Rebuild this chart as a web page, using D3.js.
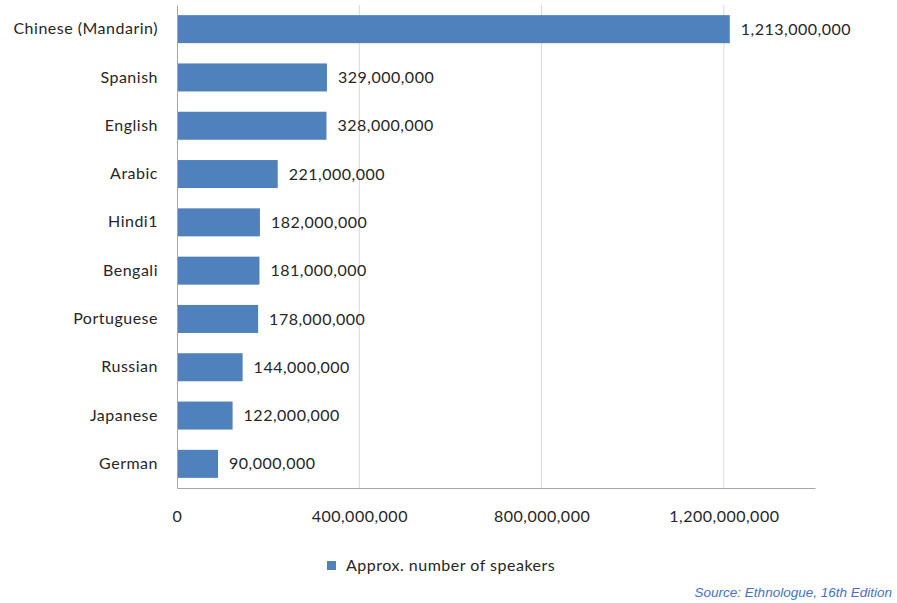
<!DOCTYPE html>
<html>
<head>
<meta charset="utf-8">
<script src="https://cdn.jsdelivr.net/npm/d3@7"></script>
<style>
  body { margin: 0; background: #fff; }
  text { font-family: Lato, "Open Sans", sans-serif; fill: #262626; letter-spacing: 0.5px; }
</style>
</head>
<body>
<div class="chart"></div>
<script>
const languages = ['Chinese (Mandarin)', 'Spanish', 'English', 'Arabic', 'Hindi1',
                   'Bengali', 'Portuguese', 'Russian', 'Japanese', 'German'];
const speakers = [1213000000, 329000000, 328000000, 221000000, 182000000,
                  181000000, 178000000, 144000000, 122000000, 90000000];
const xTicks = [0, 400000000, 800000000, 1200000000];
const seriesName = 'Approx. number of speakers';
const sourceNote = 'Source: Ethnologue, 16th Edition';

const data = languages.map((d, i) => ({ lang: d, value: speakers[i] }));

const width = 897, height = 603;
const margin = { top: 5, left: 177, right: 82, bottom: 115 };
const barColor = '#4f81bd';

const svg = d3.select('.chart').append('svg')
  .attr('width', width).attr('height', height);

const x = d3.scaleLinear().domain([0, 1400000000])
  .range([margin.left, width - margin.right]);
const y = d3.scaleBand().domain(languages)
  .range([margin.top, height - margin.bottom])
  .paddingInner(0.42).paddingOuter(0.21);

const fmt = d3.format(',');

// gridlines
svg.append('g').selectAll('line')
  .data(xTicks.filter(d => d > 0))
  .join('line')
  .attr('x1', d => x(d)).attr('x2', d => x(d))
  .attr('y1', margin.top).attr('y2', height - margin.bottom)
  .attr('stroke', '#d9d9d9').attr('stroke-width', 1);

// bars
svg.append('g').selectAll('rect')
  .data(data)
  .join('rect')
  .attr('x', x(0))
  .attr('y', d => y(d.lang))
  .attr('width', d => x(d.value) - x(0))
  .attr('height', y.bandwidth())
  .attr('fill', barColor);

// value labels
svg.append('g').selectAll('text')
  .data(data)
  .join('text')
  .attr('x', d => x(d.value) + 11)
  .attr('y', d => y(d.lang) + y.bandwidth() / 2)
  .attr('dy', '0.35em')
  .style('font-size', '16px')
  .text(d => fmt(d.value));

// x axis
const xAxis = d3.axisBottom(x).tickValues(xTicks).tickFormat(fmt)
  .tickSize(0).tickPadding(23);
const xAxisG = svg.append('g')
  .attr('transform', `translate(0,${height - margin.bottom})`)
  .call(xAxis);
xAxisG.select('.domain').attr('stroke', '#a6a6a6');
xAxisG.selectAll('text').style('font-size', '16px').attr('fill', '#262626');

// y axis
const yAxis = d3.axisLeft(y).tickSize(0).tickPadding(19);
const yAxisG = svg.append('g')
  .attr('transform', `translate(${margin.left},0)`)
  .call(yAxis);
yAxisG.select('.domain').attr('stroke', '#a6a6a6');
yAxisG.selectAll('text').style('font-size', '16px').attr('fill', '#262626');

// legend
const legend = svg.append('g').attr('transform', 'translate(327,561)');
legend.append('rect').attr('width', 9).attr('height', 9).attr('fill', barColor);
legend.append('text').attr('x', 19).attr('y', 10).style('font-size', '16px').text(seriesName);

// source
svg.append('text')
  .attr('x', 892).attr('y', 597)
  .attr('text-anchor', 'end')
  .style('font-family', '"Liberation Sans", Arial, sans-serif')
  .style('font-style', 'italic')
  .style('font-size', '13.5px')
  .style('letter-spacing', '0px')
  .style('fill', '#4472c4')
  .text(sourceNote);
</script>
</body>
</html>
